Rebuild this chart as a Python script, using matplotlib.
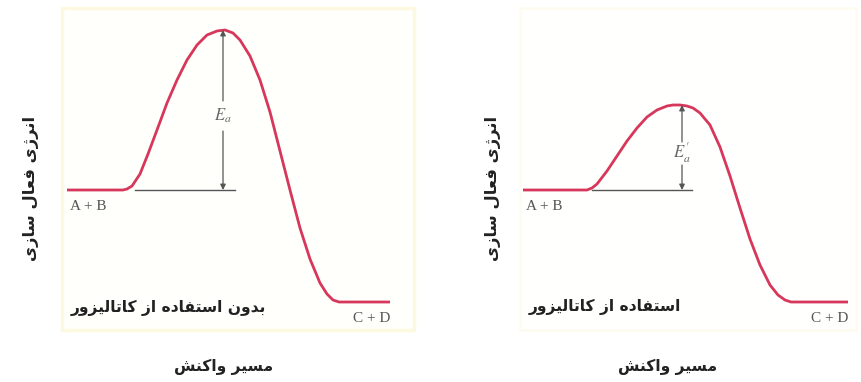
import matplotlib.pyplot as plt
from matplotlib.patches import Rectangle

# energy profiles (reaction coordinate, energy; arbitrary units)
rxn_uncat = [0, 56, 60, 65, 73, 81, 90, 100, 110, 120, 130, 140, 150, 158, 166, 173,
             183, 193, 203, 213, 223, 233, 243, 253, 260, 266, 272, 323]
energy_uncat = [112, 112, 113, 116, 128, 148, 172, 199, 222, 242, 257, 267, 271, 272, 269, 262,
                246, 222, 190, 151, 112, 74, 43, 19, 8, 2, 0, 0]

rxn_cat = [0, 64, 69, 74, 84, 94, 104, 114, 124, 134, 144, 150, 157, 164, 170, 177, 187, 197,
           207, 217, 227, 237, 247, 255, 262, 268, 325]
energy_cat = [112, 112, 114, 118, 131, 146, 161, 174, 185, 192, 196, 197, 197, 196, 194, 189, 177, 155,
              126, 94, 63, 37, 17, 7, 2, 0, 0]

reactants = "A + B"
products = "C + D"
ea_labels = [r"$E_{a}$", r"$E^{\prime}_{a}$"]
titles = ["بدون استفاده از کاتالیزور", "استفاده از کاتالیزور"]
xlabel = "مسیر واکنش"
ylabel = "انرژی فعال سازی"

# DejaVu has the Arabic presentation forms; matplotlib does no shaping, so do it here
FORMS = {
    "ا": "\uFE8D\uFE8E", "د": "\uFEA9\uFEAA", "ر": "\uFEAD\uFEAE", "ز": "\uFEAF\uFEB0",
    "ژ": "\uFB8A\uFB8B", "و": "\uFEED\uFEEE",
    "ب": "\uFE8F\uFE90\uFE91\uFE92", "ت": "\uFE95\uFE96\uFE97\uFE98",
    "س": "\uFEB1\uFEB2\uFEB3\uFEB4", "ش": "\uFEB5\uFEB6\uFEB7\uFEB8",
    "ع": "\uFEC9\uFECA\uFECB\uFECC", "ف": "\uFED1\uFED2\uFED3\uFED4",
    "ک": "\uFB8E\uFB8F\uFB90\uFB91", "ل": "\uFEDD\uFEDE\uFEDF\uFEE0",
    "م": "\uFEE1\uFEE2\uFEE3\uFEE4", "ن": "\uFEE5\uFEE6\uFEE7\uFEE8",
    "ه": "\uFEE9\uFEEA\uFEEB\uFEEC", "ی": "\uFBFC\uFBFD\uFBFE\uFBFF",
}


def fa(s):
    out = []
    for i, c in enumerate(s):
        if c not in FORMS:
            out.append(c)
            continue
        prev = s[i - 1] if i > 0 else " "
        nxt = s[i + 1] if i + 1 < len(s) else " "
        joins_prev = prev in FORMS and len(FORMS[prev]) == 4
        joins_next = len(FORMS[c]) == 4 and nxt in FORMS
        f = FORMS[c]
        if joins_prev and joins_next:
            out.append(f[3])
        elif joins_prev:
            out.append(f[1])
        elif joins_next:
            out.append(f[2])
        else:
            out.append(f[0])
    return "".join(out)[::-1]


plt.rcParams["mathtext.fontset"] = "stix"

W, H = 861, 382
fig = plt.figure(figsize=(W / 100, H / 100), dpi=100)
fig.patch.set_facecolor("white")

# faint yellowish panel frames
fig.patches.append(Rectangle((62 / W, 52 / H), 352 / W, 322 / H, transform=fig.transFigure,
                             facecolor="#fffffc", edgecolor="#fdf9e0", lw=2.5, zorder=-5))
fig.patches.append(Rectangle((520 / W, 52 / H), 336 / W, 322 / H, transform=fig.transFigure,
                             facecolor="#fffffe", edgecolor="#fefcf0", lw=2, zorder=-5))

red = "#d6375a"
grey = "#555555"

panels = [
    dict(left=0, x0=-67, rxn=rxn_uncat, en=energy_uncat, base=(68, 168), arrow_x=156,
         label_y=186, gap=(201, 171), title_x=101, title_y=-6, xl_x=157, yl_x=-36),
    dict(left=430, x0=-93, rxn=rxn_cat, en=energy_cat, base=(69, 169), arrow_x=159,
         label_y=149, gap=(160, 137), title_x=82, title_y=-5, xl_x=145, yl_x=-30),
]

for k, p in enumerate(panels):
    ax = fig.add_axes([p["left"] / W, 0, 431 / W, 1])
    ax.set_xlim(p["x0"], p["x0"] + 431)
    ax.set_ylim(-80, 302)
    ax.axis("off")
    ax.patch.set_alpha(0)

    ax.plot(p["rxn"], p["en"], color=red, lw=2, solid_capstyle="butt",
            solid_joinstyle="round", zorder=3)
    ax.plot(p["base"], [p["en"][0], p["en"][0]], color=grey, lw=1, zorder=2)

    top = max(p["en"])
    xa = p["arrow_x"]
    ax.annotate("", xy=(xa, top), xytext=(xa, p["gap"][0]),
                arrowprops=dict(arrowstyle="-|>", color=grey, lw=0.9,
                                mutation_scale=8, shrinkA=0, shrinkB=0))
    ax.annotate("", xy=(xa, p["en"][0]), xytext=(xa, p["gap"][1]),
                arrowprops=dict(arrowstyle="-|>", color=grey, lw=0.9,
                                mutation_scale=8, shrinkA=0, shrinkB=0))
    ax.text(xa, p["label_y"], ea_labels[k], ha="center", va="center",
            fontsize=12, color="#666666")

    ax.text(p["rxn"][0] + 3, 95, reactants, ha="left", va="center",
            fontsize=11, family="Liberation Serif", color=grey)
    ax.text(p["rxn"][-1], -16, products, ha="right", va="center",
            fontsize=11, family="Liberation Serif", color=grey)

    ax.text(p["title_x"], p["title_y"], fa(titles[k]), ha="center", va="center",
            fontsize=11.2, family="DejaVu Sans", weight="bold", color="#222222")
    ax.text(p["xl_x"], -65, fa(xlabel), ha="center", va="center",
            fontsize=11.2, family="DejaVu Sans", weight="bold", color="#222222")
    ax.text(p["yl_x"], 114, fa(ylabel), ha="center", va="center", rotation=90,
            fontsize=11.8, family="DejaVu Sans", weight="bold", color="#222222")

fig.savefig("out.png", dpi=100)
